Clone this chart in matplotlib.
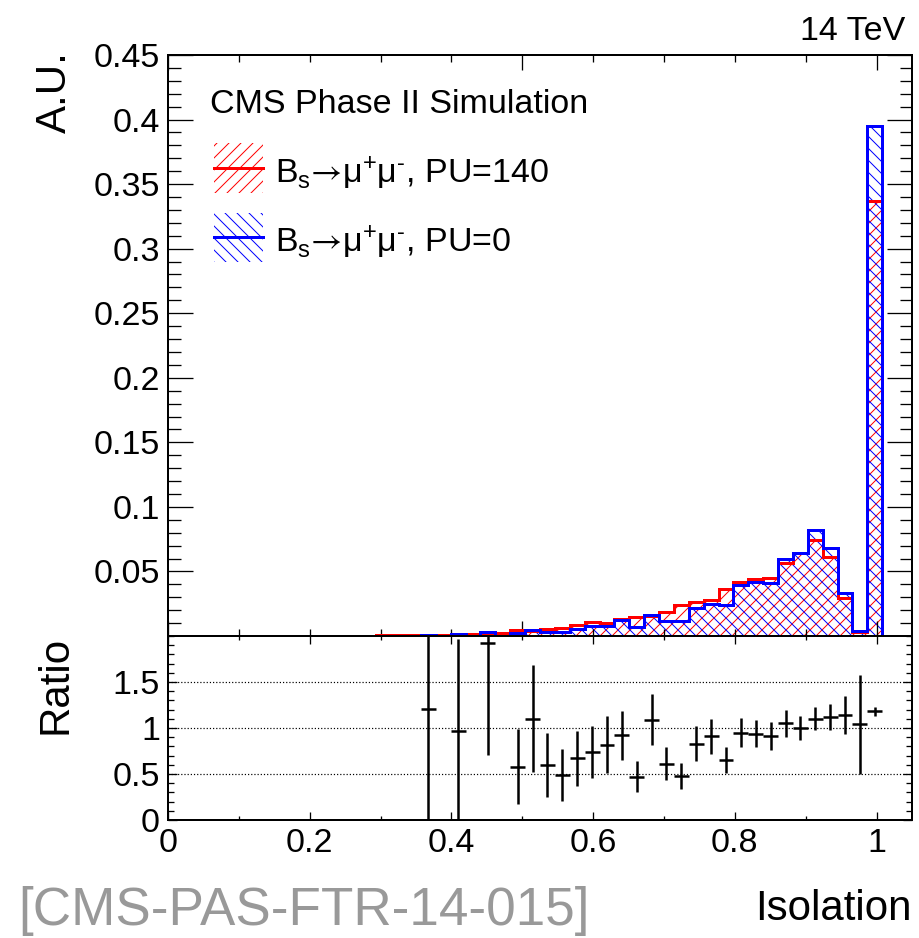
import numpy as np
import matplotlib
matplotlib.use("Agg")
import matplotlib.pyplot as plt
from matplotlib.patches import Rectangle
from matplotlib.lines import Line2D
from matplotlib.ticker import MultipleLocator, FixedLocator

plt.rcParams['font.family'] = ['Liberation Sans', 'DejaVu Sans']
plt.rcParams['mathtext.fontset'] = 'custom'
plt.rcParams['mathtext.rm'] = 'Liberation Sans'
plt.rcParams['mathtext.sf'] = 'STIXGeneral'
plt.rcParams['mathtext.default'] = 'regular'
plt.rcParams['mathtext.fallback'] = 'stix'
plt.rcParams['hatch.linewidth'] = 1.0

# ---------------- data ----------------
x_min, x_max, n_bins = 0.0, 1.05, 50
pu140 = [0, 0, 0, 0, 0, 0, 0, 0, 0, 0, 0, 0,
         0.0003, 0.0003, 0.0004, 0.0004, 0.0005,
         0.0008, 0.0010, 0.0012, 0.0015, 0.0017, 0.0025, 0.0045, 0.0042, 0.0055,
         0.0065, 0.0085, 0.0105, 0.0098, 0.0135, 0.0150, 0.0152, 0.0186, 0.0241,
         0.0262, 0.0275, 0.0366, 0.0415, 0.0441, 0.0449, 0.0566, 0.0644, 0.0747,
         0.0610, 0.0293, 0.0034, 0.337, 0, 0]
pu0 = [0, 0, 0, 0, 0, 0, 0, 0, 0, 0, 0, 0,
       0, 0, 0, 0, 0,
       0.0010, 0, 0.0012, 0, 0.0033, 0, 0.0026, 0.0046, 0.0033,
       0.0032, 0.0057, 0.0078, 0.0081, 0.0125, 0.0070, 0.0163, 0.0113, 0.0116,
       0.0216, 0.0249, 0.0239, 0.0395, 0.0415, 0.0407, 0.0596, 0.0644, 0.0820,
       0.0685, 0.0334, 0.0035, 0.395, 0, 0]
ratio_bins = [17, 19, 21, 23, 24, 25, 26, 27, 28, 29, 30, 31, 32, 33, 34, 35, 36,
              37, 38, 39, 40, 41, 42, 43, 44, 45, 46, 47]
ratio = [1.21, 0.97, 1.92, 0.58, 1.10, 0.60, 0.49, 0.67, 0.74, 0.82, 0.92, 0.47,
         1.09, 0.61, 0.48, 0.83, 0.91, 0.65, 0.95, 0.94, 0.91, 1.05, 1.00, 1.10,
         1.12, 1.14, 1.04, 1.18]
ratio_err = [1.30, 1.00, 1.21, 0.41, 0.58, 0.35, 0.28, 0.30, 0.28, 0.31, 0.27, 0.17,
             0.28, 0.18, 0.14, 0.19, 0.19, 0.14, 0.16, 0.15, 0.15, 0.145, 0.13,
             0.127, 0.14, 0.21, 0.54, 0.05]
top_yticks = [0.05, 0.1, 0.15, 0.2, 0.25, 0.3, 0.35, 0.4, 0.45]
ratio_yticks = [0, 0.5, 1, 1.5]
x_ticks = [0, 0.2, 0.4, 0.6, 0.8, 1.0]
label_140 = r'B$_{s}\mathsf{→}$μ$^{+}$μ$^{‐}$, PU=140'
label_0 = r'B$_{s}\mathsf{→}$μ$^{+}$μ$^{‐}$, PU=0'

edges = np.linspace(x_min, x_max, n_bins + 1)
centers = 0.5 * (edges[:-1] + edges[1:])
width = edges[1] - edges[0]

# ---------------- figure ----------------
W, H = 919, 938
DPI = 72
fig = plt.figure(figsize=(W / DPI, H / DPI), dpi=DPI)

def fx(px):
    return px / W

def fy(py):
    return 1 - py / H

L, R = 168, 912
T1, B1, B2 = 55, 636, 820
ax1 = fig.add_axes([fx(L), fy(B1), (R - L) / W, (B1 - T1) / H])
ax2 = fig.add_axes([fx(L), fy(B2), (R - L) / W, (B2 - B1) / H])

RED = '#ff0000'
BLUE = '#0000ff'

# top histograms
ax1.bar(centers, pu140, width=width, fill=False, hatch='//', edgecolor=RED, linewidth=0)
ax1.bar(centers, pu0, width=width, fill=False, hatch='\\\\', edgecolor=BLUE, linewidth=0)
ax1.stairs(pu140, edges, color=RED, linewidth=3, baseline=0, zorder=3)
ax1.stairs(pu0, edges, color=BLUE, linewidth=3, baseline=0, zorder=3.1)
ax1.set_xlim(x_min, x_max)
ax1.set_ylim(0, 0.45)

ax1.yaxis.set_major_locator(FixedLocator(top_yticks))
ax1.set_yticklabels(['%g' % v for v in top_yticks])
ax1.yaxis.set_minor_locator(MultipleLocator(0.01))
ax1.xaxis.set_major_locator(MultipleLocator(0.5))
ax1.xaxis.set_minor_locator(MultipleLocator(0.1))
ax1.tick_params(which='both', direction='in', top=True, right=True,
                labelbottom=False, width=1.3, labelsize=34, pad=8)
ax1.tick_params(axis='y', which='major', length=25)
ax1.tick_params(axis='y', which='minor', length=12.5)
ax1.tick_params(axis='x', which='major', length=15)
ax1.tick_params(axis='x', which='minor', length=7)
for s in ax1.spines.values():
    s.set_linewidth(2)

# ratio panel
rx = [centers[i] for i in ratio_bins]
ax2.errorbar(rx, ratio, xerr=width / 2, yerr=ratio_err, fmt='none',
             ecolor='black', elinewidth=2.5, capsize=0)
ax2.set_xlim(x_min, x_max)
ax2.set_ylim(0, 2)
ax2.yaxis.set_major_locator(FixedLocator(ratio_yticks))
ax2.set_yticklabels(['%g' % v for v in ratio_yticks])
ax2.yaxis.set_minor_locator(MultipleLocator(0.1))
ax2.xaxis.set_major_locator(FixedLocator(x_ticks))
ax2.set_xticklabels(['%g' % v for v in x_ticks])
ax2.xaxis.set_minor_locator(MultipleLocator(0.1))
ax2.tick_params(which='both', direction='in', top=True, right=True,
                width=1.3, labelsize=34, pad=8)
ax2.tick_params(axis='y', which='major', length=9)
ax2.tick_params(axis='y', which='minor', length=6)
ax2.tick_params(axis='x', which='major', length=8)
ax2.tick_params(axis='x', which='minor', length=4)
ax2.grid(axis='y', which='major', linestyle=':', color='black', linewidth=1.2)
for s in ax2.spines.values():
    s.set_linewidth(2)

# texts
fig.text(fx(55), fy(51), 'A.U.', rotation=90, ha='center', va='top', fontsize=42)
fig.text(fx(55), fy(636), 'Ratio', rotation=90, ha='center', va='top', fontsize=42)
fig.text(fx(912), fy(920), 'Isolation', ha='right', va='baseline', fontsize=42)
fig.text(fx(18), fy(925), '[CMS-PAS-FTR-14-015]', ha='left', va='baseline',
         fontsize=53, color='#999999')
fig.text(fx(905), fy(40), '14 TeV', ha='right', va='baseline', fontsize=34)
fig.text(fx(210), fy(113), 'CMS Phase II Simulation', ha='left', va='baseline', fontsize=34)

# legend (manual)
for (y0, y1, ym, yb, col, hatch, lab) in [
        (143, 193, 168, 183, RED, '//', label_140),
        (213, 262, 237, 252, BLUE, '\\\\', label_0)]:
    fig.add_artist(Rectangle((fx(214), fy(y1)), (263 - 214) / W, (y1 - y0) / H,
                             transform=fig.transFigure, fill=False, hatch=hatch,
                             edgecolor=col, linewidth=0))
    fig.add_artist(Line2D([fx(214), fx(263)], [fy(ym), fy(ym)],
                          transform=fig.transFigure, color=col, linewidth=3))
    fig.text(fx(275), fy(yb), lab, ha='left', va='baseline', fontsize=34)

fig.savefig('out.png', dpi=DPI)
